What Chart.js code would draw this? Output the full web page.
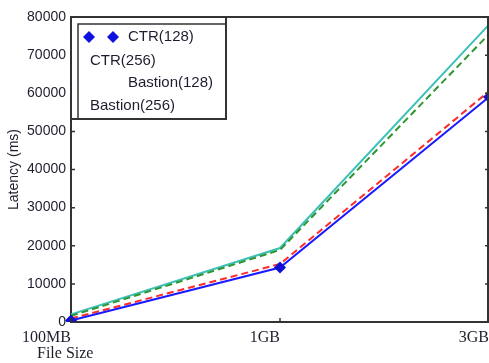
<!DOCTYPE html>
<html>
<head>
<meta charset="utf-8">
<script src="https://cdn.jsdelivr.net/npm/chart.js@4.4.0/dist/chart.umd.min.js"></script>
<style>
    html, body { margin: 0; padding: 0; background: #fff; }
    #wrap { width: 489px; height: 363px; position: relative; }
</style>
</head>
<body>
<div id="wrap"><canvas id="myChart" width="489" height="363"></canvas></div>
<script>
    // 数据
    var fileSizes = ['100MB', '1GB', '3GB'];
    var seriesNames = ['CTR(128)', 'CTR(256)', 'Bastion(128)', 'Bastion(256)'];
    var ctr128 = [400, 14300, 59000];
    var ctr256 = [1600, 18900, 75500];
    var bastion128 = [900, 15200, 60500];
    var bastion256 = [2000, 19400, 78000];
    var yTicks = [0, 10000, 20000, 30000, 40000, 50000, 60000, 70000, 80000];

    var axisColor = '#333';
    var textColor = '#1e1e2e';

    // 边框、刻度、图例
    var framePlugin = {
        id: 'frame',
        afterDraw: function (chart) {
            var c = chart.ctx;
            var a = chart.chartArea;
            var ys = chart.scales.y;
            var xs = chart.scales.x;
            c.save();
            c.strokeStyle = axisColor;
            c.lineWidth = 2;
            c.beginPath();
            c.moveTo(a.left, a.top);
            c.lineTo(a.right, a.top);
            c.moveTo(a.right - 1, a.top);
            c.lineTo(a.right - 1, a.bottom);
            c.stroke();
            // 刻度
            c.lineWidth = 1.5;
            c.beginPath();
            yTicks.forEach(function (v) {
                var py = ys.getPixelForValue(v);
                c.moveTo(a.left, py); c.lineTo(a.left + 4, py);
                c.moveTo(a.right - 4, py); c.lineTo(a.right, py);
            });
            fileSizes.forEach(function (f, i) {
                var px = xs.getPixelForValue(i);
                c.moveTo(px, a.bottom); c.lineTo(px, a.bottom - 4);
            });
            c.stroke();

            // 图例
            c.fillStyle = '#fff';
            c.fillRect(a.left + 1, a.top + 1, 154, 101);
            c.strokeStyle = axisColor;
            c.lineWidth = 2;
            c.strokeRect(a.left, a.top, 155, 102);
            c.lineWidth = 1.5;
            c.beginPath();
            c.moveTo(a.left + 7, a.top + 102);
            c.lineTo(a.left + 7, a.top + 7);
            c.lineTo(a.left + 154, a.top + 7);
            c.stroke();

            c.fillStyle = '#1010e0';
            [89, 113].forEach(function (dx) {
                c.beginPath();
                c.moveTo(dx, 31); c.lineTo(dx + 6, 37); c.lineTo(dx, 43); c.lineTo(dx - 6, 37);
                c.closePath();
                c.fill();
            });

            c.fillStyle = textColor;
            c.font = '15px "Liberation Sans", Arial, sans-serif';
            c.textBaseline = 'middle';
            c.textAlign = 'left';
            var pos = [[128, 37], [90, 61], [128, 83], [90, 106]];
            seriesNames.forEach(function (n, i) {
                c.fillText(n, pos[i][0], pos[i][1]);
            });

            // x 轴标题
            c.font = '16px "Liberation Serif", "Times New Roman", serif';
            c.textBaseline = 'alphabetic';
            c.fillText('File Size', 37, 358);
            c.restore();
        }
    };

    var ctx = document.getElementById('myChart').getContext('2d');
    var myChart = new Chart(ctx, {
        type: 'line',
        data: {
            labels: fileSizes,
            datasets: [{
                label: seriesNames[0],
                data: ctr128,
                borderColor: '#1a1aff',
                backgroundColor: '#1010d0',
                borderWidth: 2,
                pointStyle: 'rectRot',
                pointRadius: 6,
                pointBorderWidth: 0,
                pointBackgroundColor: '#1010d0'
            }, {
                label: seriesNames[2],
                data: bastion128,
                borderColor: '#ff2a2a',
                borderWidth: 2,
                borderDash: [7, 4],
                pointRadius: 0
            }, {
                label: seriesNames[1],
                data: ctr256,
                borderColor: '#2e9630',
                borderWidth: 2,
                borderDash: [7, 4],
                pointRadius: 0
            }, {
                label: seriesNames[3],
                data: bastion256,
                borderColor: '#3cc0b8',
                borderWidth: 2,
                pointRadius: 0
            }]
        },
        options: {
            responsive: false,
            animation: false,
            layout: { autoPadding: false, padding: { top: 17, right: 0, left: 0, bottom: 0 } },
            plugins: {
                legend: { display: false },
                tooltip: { enabled: false }
            },
            scales: {
                x: {
                    offset: false,
                    grid: { display: false, drawTicks: true, tickLength: 6 },
                    border: { display: true, color: axisColor, width: 2 },
                    ticks: {
                        align: 'end',
                        padding: 0,
                        color: textColor,
                        maxRotation: 0,
                        font: { family: '"Liberation Serif", "Times New Roman", serif', size: 16 }
                    },
                    afterFit: function (s) {
                        s.height = 41;
                        s.paddingRight = 0;
                        s.paddingLeft = 0;
                    }
                },
                y: {
                    min: 0,
                    max: 80000,
                    grid: { display: false, drawTicks: false },
                    border: { display: true, color: axisColor, width: 2 },
                    ticks: {
                        stepSize: 10000,
                        padding: 5,
                        color: textColor,
                        font: { family: '"Liberation Sans", Arial, sans-serif', size: 14 },
                        callback: function (v) { return String(v); }
                    },
                    title: {
                        display: true,
                        text: 'Latency (ms)',
                        color: textColor,
                        padding: { top: 6, bottom: 0 },
                        font: { family: '"Liberation Sans", Arial, sans-serif', size: 14 }
                    },
                    afterFit: function (s) { s.width = 71; }
                }
            }
        },
        plugins: [framePlugin]
    });
</script>
</body>
</html>
